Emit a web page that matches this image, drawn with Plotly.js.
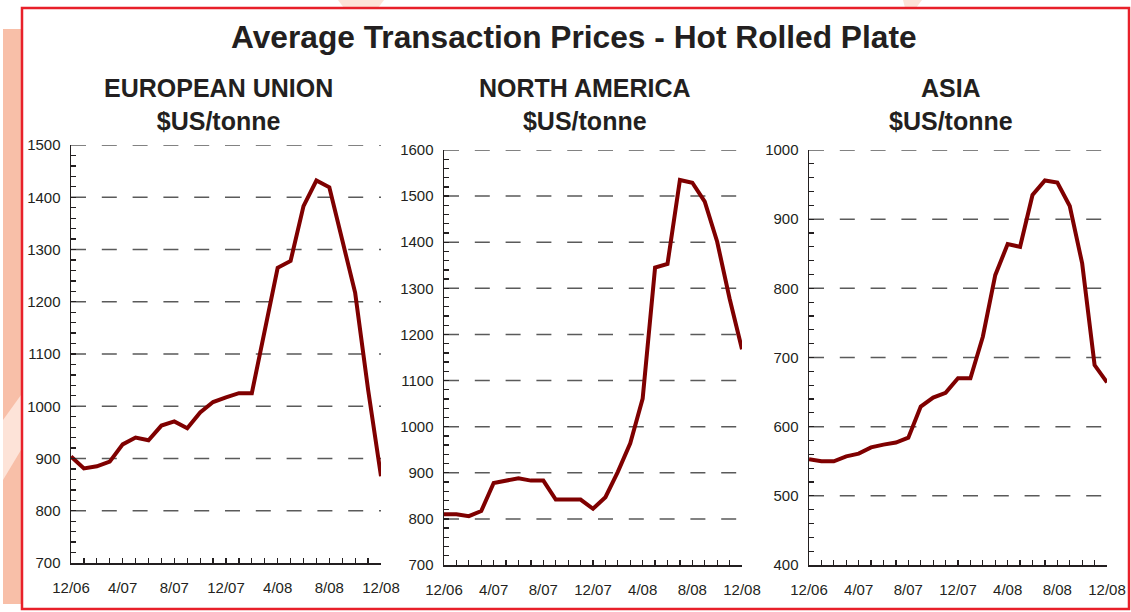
<!DOCTYPE html>
<html>
<head>
<meta charset="utf-8">
<script src="https://cdn.plot.ly/plotly-3.0.1.min.js"></script>
<style>
  html, body { margin: 0; padding: 0; background: #fff; }
  #chart { width: 1131px; height: 612px; }
</style>
</head>
<body>
<div id="chart"></div>
<script>
// --- data (monthly, 12/06 .. 12/08) ---
const monthIndex = Array.from({ length: 25 }, (_, i) => i);
const tickLabels = ["12/06", "4/07", "8/07", "12/07", "4/08", "8/08", "12/08"];

const euPrices = [904, 881, 885, 894, 927, 940, 935, 963, 971, 958, 988, 1008, 1017,
                  1025, 1025, 1143, 1265, 1278, 1383, 1432, 1419, 1318, 1217, 1032, 866];
const naPrices = [810, 810, 806, 817, 878, 883, 888, 883, 883, 842, 842, 842, 822,
                  847, 902, 964, 1061, 1345, 1353, 1535, 1529, 1488, 1401, 1278, 1168];
const asiaPrices = [553, 550, 550, 557, 561, 570, 574, 577, 584, 629, 642, 649, 670,
                    670, 730, 819, 864, 860, 935, 956, 953, 919, 836, 689, 664];

const panelTitles = ["EUROPEAN UNION<br>$US/tonne", "NORTH AMERICA<br>$US/tonne", "ASIA<br>$US/tonne"];
const yRanges = [[700, 1500], [700, 1600], [400, 1000]];

// --- page geometry (pixels) ---
const W = 1131, H = 612;
const px = x => x / W;
const py = y => 1 - y / H;

const panels = [
  { x0: 71, x1: 381, y0: 145, y1: 563, cx: 218 },
  { x0: 444, x1: 742, y0: 150, y1: 565, cx: 585 },
  { x0: 809, x1: 1107, y0: 150, y1: 565, cx: 951 }
];

const ink = "#231f20";
const lineColor = "#7f0000";
const gridColor = "#5a5a5a";
const font = "Liberation Sans, Arial, sans-serif";

// monthly ticks, labelled every 4 months
const xTickText = monthIndex.map(m => (m % 4 === 0 ? tickLabels[m / 4] : ""));

const traces = [euPrices, naPrices, asiaPrices].map((vals, i) => {
  const sfx = i === 0 ? "" : String(i + 1);
  return {
    x: monthIndex, y: vals, type: "scatter", mode: "lines",
    xaxis: "x" + sfx, yaxis: "y" + sfx,
    line: { color: lineColor, width: 4 }, hoverinfo: "skip"
  };
});

const layout = {
  width: W,
  height: H,
  margin: { l: 0, r: 0, t: 0, b: 0 },
  paper_bgcolor: "#fff",
  plot_bgcolor: "rgba(0,0,0,0)",
  showlegend: false,
  font: { family: font, color: ink, size: 15 },
  annotations: [
    {
      text: "<b>Average Transaction Prices - Hot Rolled Plate</b>",
      xref: "paper", yref: "paper", x: px(574), y: py(37),
      xanchor: "center", yanchor: "middle", showarrow: false,
      font: { size: 31.7, color: ink }
    }
  ],
  shapes: [
    // salmon strip + watermark on the left
    { type: "rect", xref: "paper", yref: "paper", x0: px(3), x1: px(21), y0: py(604), y1: py(29),
      fillcolor: "#f8bfa8", line: { width: 0 }, layer: "below" },
    { type: "path", xref: "paper", yref: "paper",
      path: `M ${px(3)} ${py(420)} L ${px(21)} ${py(395)} L ${px(21)} ${py(450)} L ${px(3)} ${py(480)} Z`,
      fillcolor: "#fde3d8", line: { width: 0 }, layer: "below" },
    // faint logo pieces above the frame
    { type: "path", xref: "paper", yref: "paper",
      path: `M ${px(338)} ${py(0)} L ${px(384)} ${py(0)} L ${px(378)} ${py(8)} L ${px(344)} ${py(8)} Z`,
      fillcolor: "#fde3d8", line: { width: 0 }, layer: "below" },
    { type: "path", xref: "paper", yref: "paper",
      path: `M ${px(903)} ${py(0)} L ${px(922)} ${py(0)} L ${px(916)} ${py(8)} L ${px(905)} ${py(8)} Z`,
      fillcolor: "#fde3d8", line: { width: 0 }, layer: "below" },
    // red frame
    { type: "rect", xref: "paper", yref: "paper", x0: px(22), x1: px(1129), y0: py(609), y1: py(8),
      fillcolor: "#fff", line: { color: "#e8202a", width: 2.5 }, layer: "below" }
  ]
};

panels.forEach((p, i) => {
  const sfx = i === 0 ? "" : String(i + 1);
  const [lo, hi] = yRanges[i];
  const yTickVals = [];
  for (let v = lo; v <= hi; v += 20) yTickVals.push(v);
  const yTickText = yTickVals.map(v => (v % 100 === 0 ? String(v) : ""));

  layout["xaxis" + sfx] = {
    domain: [px(p.x0), px(p.x1)],
    anchor: "y" + sfx,
    range: [0, 24],
    tickmode: "array",
    tickvals: monthIndex,
    ticktext: xTickText,
    ticks: "inside",
    ticklen: 5,
    tickwidth: 1.3,
    tickcolor: ink,
    ticklabelstandoff: 10,
    showline: true,
    linecolor: ink,
    linewidth: 1.5,
    showgrid: false,
    zeroline: false,
    tickfont: { size: 15, color: ink },
    fixedrange: true
  };
  layout["yaxis" + sfx] = {
    domain: [py(p.y1), py(p.y0)],
    anchor: "x" + sfx,
    range: [lo, hi],
    tickmode: "array",
    tickvals: yTickVals,
    ticktext: yTickText,
    ticks: "inside",
    ticklen: 5,
    tickwidth: 1.3,
    tickcolor: ink,
    ticklabelstandoff: 6,
    showline: true,
    linecolor: ink,
    linewidth: 1.5,
    showgrid: false,
    zeroline: false,
    tickfont: { size: 15, color: ink },
    fixedrange: true
  };
  // dashed grid every 100, starting at the y axis like the original
  for (let v = lo + 100; v <= hi; v += 100) {
    layout.shapes.push({
      type: "line", xref: "x" + sfx, yref: "y" + sfx,
      x0: 0, x1: 24, y0: v, y1: v,
      line: { color: gridColor, width: 1.5, dash: "15px,15.8px" },
      layer: "below"
    });
  }
  layout.annotations.push({
    text: "<b>" + panelTitles[i].replace("<br>", "</b><br><b>") + "</b>",
    xref: "paper", yref: "paper", x: px(p.cx), y: py(104),
    xanchor: "center", yanchor: "middle", showarrow: false,
    font: { size: 25, color: ink }
  });
});

Plotly.newPlot("chart", traces, layout, { staticPlot: true, displayModeBar: false });
</script>
</body>
</html>
